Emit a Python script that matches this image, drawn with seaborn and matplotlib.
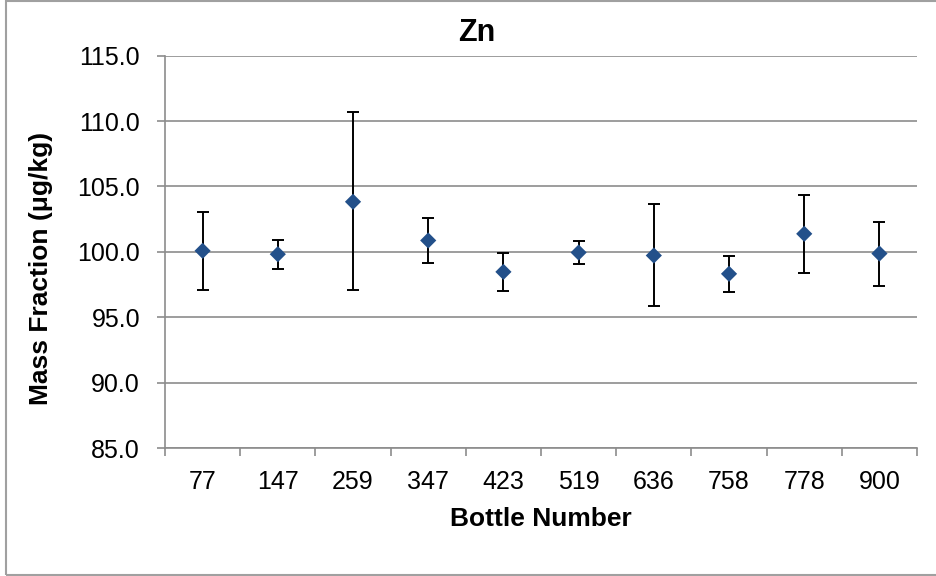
import numpy as np
import pandas as pd
import matplotlib
matplotlib.use("Agg")
import matplotlib.pyplot as plt
import seaborn as sns
from matplotlib.patches import Rectangle
from matplotlib.ticker import FormatStrFormatter

# ---- data ----
bottles = ["77", "147", "259", "347", "423", "519", "636", "758", "778", "900"]
mass_fraction = [100.08, 99.82, 103.83, 100.87, 98.47, 99.95, 99.72, 98.32, 101.38, 99.87]
upper = [103.06, 100.92, 110.66, 102.58, 99.95, 100.82, 103.65, 99.72, 104.36, 102.30]
lower = [97.12, 98.70, 97.07, 99.13, 97.04, 99.06, 95.84, 96.94, 98.37, 97.40]
y_ticks = [85.0, 90.0, 95.0, 100.0, 105.0, 110.0, 115.0]

title = "Zn"
x_label = "Bottle Number"
y_label = "Mass Fraction (μg/kg)"

sns.set_theme(style="white")
plt.rcParams["font.family"] = ["Liberation Sans", "DejaVu Sans"]
plt.rcParams["text.color"] = "black"

grid_col = "#8C8C8C"
marker_col = "#23508A"

df = pd.DataFrame({"bottle": bottles, "mass": mass_fraction,
                   "upper": upper, "lower": lower})
df["pos"] = np.arange(len(df))

fig = plt.figure(figsize=(9.37, 5.76), dpi=100)
ax = fig.add_axes([0.1761, 0.2222, 0.8026, 0.6811])

ax.errorbar(df["pos"], df["mass"],
            yerr=[df["mass"] - df["lower"], df["upper"] - df["mass"]],
            fmt="none", ecolor="black", elinewidth=1.4, capsize=4.5,
            capthick=1.4, zorder=3)
sns.scatterplot(data=df, x="pos", y="mass", marker="D", s=68,
                color=marker_col, edgecolor="none", ax=ax, zorder=4,
                legend=False)

ax.set_xlim(-0.5, len(bottles) - 0.5)
ax.set_ylim(y_ticks[0], y_ticks[-1])
ax.set_yticks(y_ticks)
ax.yaxis.set_major_formatter(FormatStrFormatter("%.1f"))
ax.grid(axis="y", color=grid_col, lw=1.2)
ax.grid(axis="x", visible=False)
ax.set_axisbelow(True)

ax.set_xticks(df["pos"])
ax.set_xticklabels(bottles)
ax.set_xticks(np.arange(len(bottles) + 1) - 0.5, minor=True)
ax.tick_params(axis="x", which="major", bottom=True, length=0, pad=16,
               labelsize=18, labelcolor="black")
ax.tick_params(axis="x", which="minor", bottom=True, length=6, width=1.2,
               color=grid_col, direction="out")
ax.tick_params(axis="y", which="major", left=True, length=6, width=1.2,
               color=grid_col, direction="out", pad=12, labelsize=18,
               labelcolor="black")

for s in ["top", "right"]:
    ax.spines[s].set_visible(False)
for s in ["left", "bottom"]:
    ax.spines[s].set_color(grid_col)
    ax.spines[s].set_linewidth(1.2)

ax.set_xlabel(x_label, fontsize=19, fontweight="bold", color="black")
ax.xaxis.set_label_coords(0.5, -0.181)
ax.xaxis.label.set_va("center")
ax.set_ylabel(y_label, fontsize=19, fontweight="bold", color="black")
ax.yaxis.set_label_coords(-0.165, 0.459)
ax.yaxis.label.set_va("center")
ax.yaxis.label.set_ha("center")

fig.text(477 / 937, 1 - 33 / 576, title, ha="center", va="center",
         fontsize=22, fontweight="bold", color="black")

fig.add_artist(Rectangle((6 / 937, 1 / 576), 1.0, 574 / 576,
                         transform=fig.transFigure, fill=False,
                         edgecolor="#A0A0A0", lw=1.5, clip_on=False))

fig.savefig("out.png", dpi=100)
